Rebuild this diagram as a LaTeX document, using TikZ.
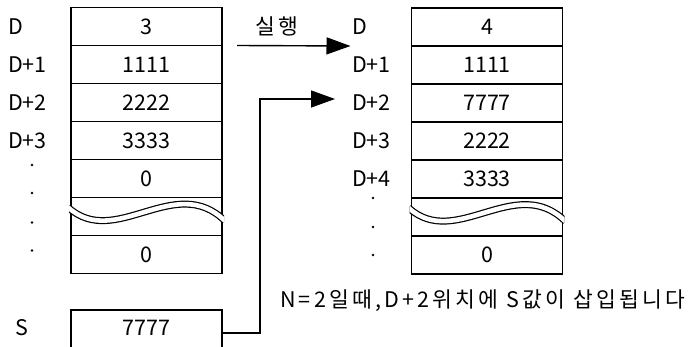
\documentclass[tikz,border=0pt]{standalone}
\usepackage{fontspec}
\newfontfamily\krfont{Noto Sans CJK KR}
\usetikzlibrary{positioning,arrows.meta}

\begin{document}
\begin{tikzpicture}[
  x=1pt, y=-1pt, node distance=0pt,
  font=\krfont\fontsize{21.5}{26}\selectfont,
  cell/.style={draw, line width=1.6pt, minimum width=151pt, minimum height=38pt, inner sep=0pt, outer sep=0pt},
  lbl/.style={anchor=west, inner sep=0pt},
  dot/.style={circle, fill, inner sep=0pt, minimum size=2.6pt},
  brk/.style={line width=1.2pt, double=white, double distance=4.6pt, shorten <=-4pt, shorten >=-4pt},
  arr/.style={-{Triangle[length=24pt, width=17pt]}, line width=1.4pt},
  spaced/.style={font=\krfont\fontsize{21.5}{26}\selectfont\addfontfeature{LetterSpace=15}}]
\useasboundingbox (0,0) rectangle (688,347);
\fill[white] (0,0) rectangle (688,347);
\clip (0,0) rectangle (688,347);
% --- left table: before
\node[cell] (a0) at (146.5,26.5) {3};
\node[cell, below=of a0] (a1) {1111};
\node[cell, below=of a1] (a2) {2222};
\node[cell, below=of a2] (a3) {3333};
\node[cell, below=of a3] (a4) {0};
\node[cell, below=of a4] (a5) {};
\node[cell, below=of a5] (a6) {0};
\node[lbl] (la0) at (8,26.5) {D};
\node[lbl] (la1) at (8,64.5) {D+1};
\node[lbl] (la2) at (8,102.5) {D+2};
\node[lbl] (la3) at (8,140.5) {D+3};
\node[dot] (da0) at (32,165) {};
\node[dot] (da1) at (32,193) {};
\node[dot] (da2) at (32,222.5) {};
\node[dot] (da3) at (32,250.5) {};
% --- source word
\node[cell, minimum height=42pt, text depth=6pt] (s) at (146.5,331) {7777};
\node[lbl] (ls) at (15,328) {S};
% --- right table: after
\node[cell] (b0) at (487,27) {4};
\node[cell, below=of b0] (b1) {1111};
\node[cell, below=of b1] (b2) {7777};
\node[cell, below=of b2] (b3) {2222};
\node[cell, below=of b3] (b4) {3333};
\node[cell, below=of b4] (b5) {};
\node[cell, below=of b5] (b6) {0};
\node[lbl] (lb0) at (352,27) {D};
\node[lbl] (lb1) at (352,65) {D+1};
\node[lbl] (lb2) at (352,103) {D+2};
\node[lbl] (lb3) at (352,141) {D+3};
\node[lbl] (lb4) at (352,179) {D+4};
\node[dot] (db0) at (373,198) {};
\node[dot] (db1) at (373,227) {};
\node[dot] (db2) at (373,255) {};
% --- break marks
\foreach \w in {a5,b5} {
  \begin{scope}
    \clip ([xshift=-2pt]\w.north west) rectangle ([xshift=2pt]\w.south east);
    \draw[brk] ([yshift=6.5pt]\w.west) .. controls +(44,40) and +(-47,-46) .. ([yshift=-1.5pt]\w.east);
  \end{scope}
}
% --- arrows
\coordinate (ins) at (335,99);
\draw[arr] ([xshift=15pt]a0.south east) -- ([xshift=-61pt]b0.south west);
\node[spaced] (run) at (277,26) {실행};
\draw[arr] ([yshift=-2pt]s.east) -- ++(38,0) |- (ins);
\node[lbl, spaced] (note) at (280,301) {N=2일때,D+2위치에 S값이 삽입됩니다};
\end{tikzpicture}
\end{document}
